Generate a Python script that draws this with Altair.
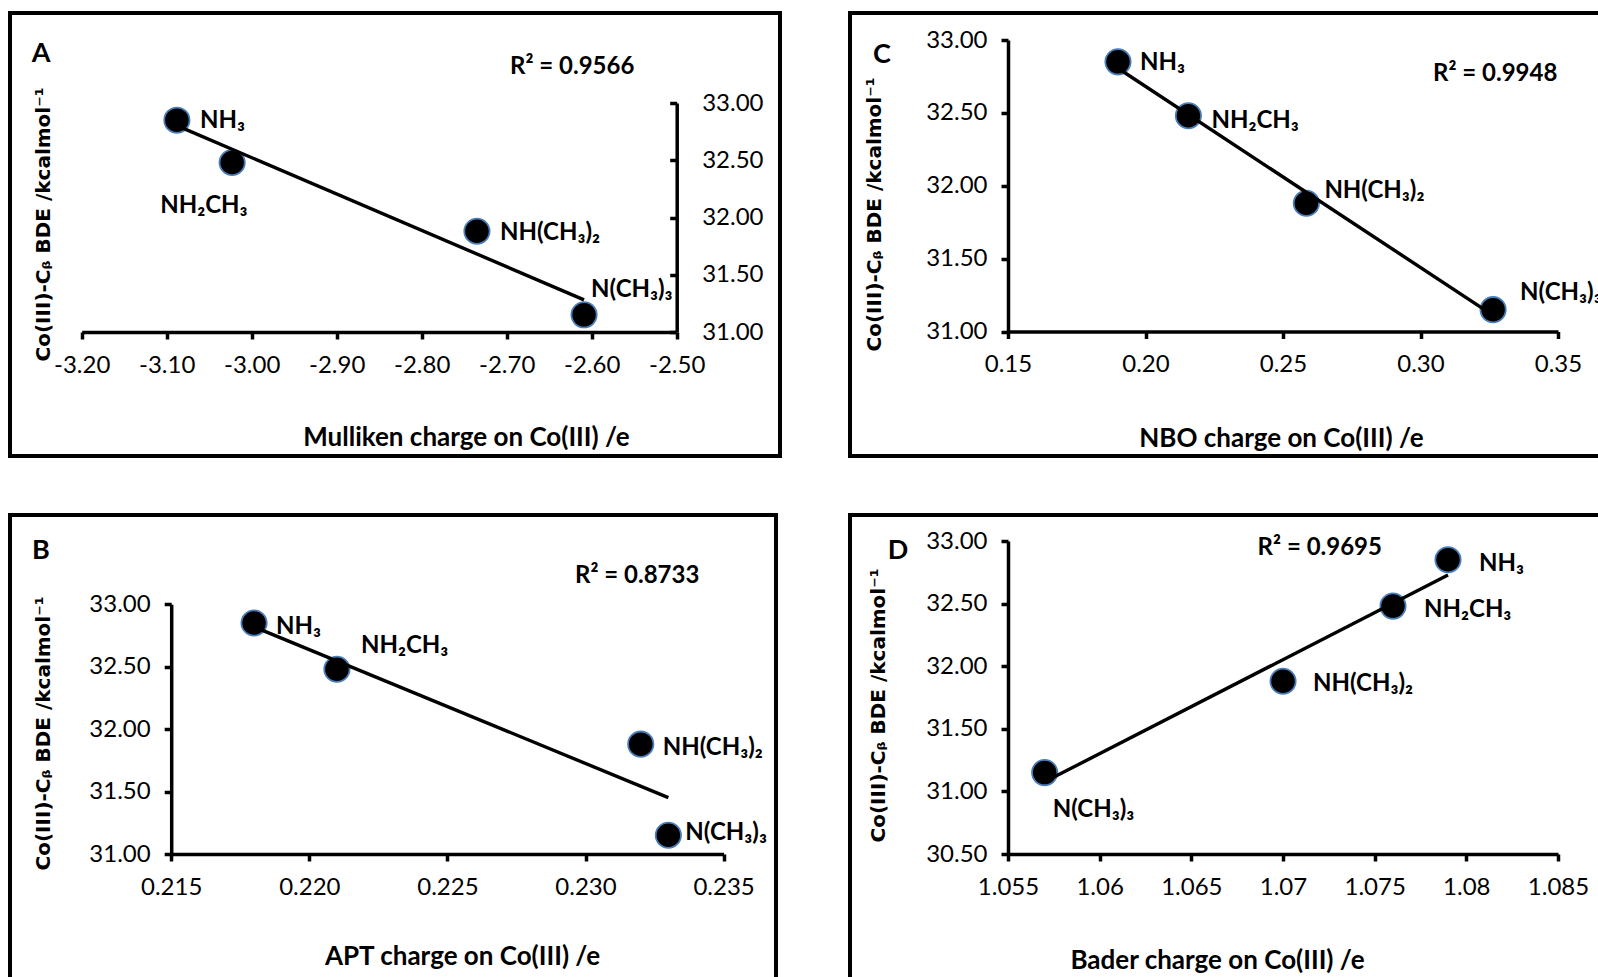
import altair as alt
import pandas as pd

# ---- data -------------------------------------------------------------
ligands = ["NH₃", "NH₂CH₃", "NH(CH₃)₂", "N(CH₃)₃"]
bde = [32.85, 32.48, 31.88, 31.15]            # Co(III)-Cβ BDE, kcal/mol
mulliken = [-3.088, -3.023, -2.735, -2.609]
nbo = [0.190, 0.2156, 0.2585, 0.3264]
apt = [0.218, 0.221, 0.232, 0.233]
bader = [1.079, 1.076, 1.070, 1.057]

r2_text = {"A": "R² = 0.9566", "B": "R² = 0.8733", "C": "R² = 0.9948", "D": "R² = 0.9695"}

mulliken_ticks = [-3.20, -3.10, -3.00, -2.90, -2.80, -2.70, -2.60, -2.50]
nbo_ticks = [0.15, 0.20, 0.25, 0.30, 0.35]
apt_ticks = [0.215, 0.220, 0.225, 0.230, 0.235]
bader_ticks = [1.055, 1.06, 1.065, 1.07, 1.075, 1.08, 1.085]
bde_ticks = [31.00, 31.50, 32.00, 32.50, 33.00]
bde_ticks_d = [30.50, 31.00, 31.50, 32.00, 32.50, 33.00]

# ---- style ------------------------------------------------------------
W, H = 1598, 977
SANS = "Lato, 'Noto Sans', sans-serif"
YT_FONT = "'DejaVu Sans', sans-serif"
Y_TITLE = "Co(III)-Cᵦ BDE /kcalmol⁻¹"
MARK_STROKE = "#4a7ebb"

panels = [
    dict(key="A", q=mulliken, x_dom=[-3.2, -2.5], x_ticks=mulliken_ticks, x_fmt=".2f",
         x_rng=[81.7, 676.7], x_axis_y=332, y_dom=[31, 33], y_ticks=bde_ticks,
         y_rng=[332, 103], y_axis_x=676.7, y_labels_right=True,
         x_title="Mulliken charge on Co(III) /e", x_title_pos=(466, 445),
         y_title_pos=(43, 224), frame=(10, 780, 13, 456),
         letter_pos=(41, 54), r2_pos=(510, 67),
         offsets=[(23, 8), (-72, 50), (23, 9), (7, -18)]),
    dict(key="C", q=nbo, x_dom=[0.15, 0.35], x_ticks=nbo_ticks, x_fmt=".2f",
         x_rng=[1008, 1558], x_axis_y=331.5, y_dom=[31, 33], y_ticks=bde_ticks,
         y_rng=[331.5, 40], y_axis_x=1008, y_labels_right=False,
         x_title="NBO charge on Co(III) /e", x_title_pos=(1281, 446),
         y_title_pos=(874, 214), frame=(850, 1700, 13, 456),
         letter_pos=(882, 55), r2_pos=(1433, 74),
         offsets=[(22, 8), (23, 12), (18, -5), (27, -10)]),
    dict(key="B", q=apt, x_dom=[0.215, 0.235], x_ticks=apt_ticks, x_fmt=".3f",
         x_rng=[171.2, 723.6], x_axis_y=854, y_dom=[31, 33], y_ticks=bde_ticks,
         y_rng=[854, 604.3], y_axis_x=171.2, y_labels_right=False,
         x_title="APT charge on Co(III) /e", x_title_pos=(462, 964),
         y_title_pos=(43, 733), frame=(10, 776, 515, 1100),
         letter_pos=(41, 551), r2_pos=(575, 576),
         offsets=[(22, 11), (24, -16), (22, 11), (17, 5)]),
    dict(key="D", q=bader, x_dom=[1.055, 1.085], x_ticks=bader_ticks, x_fmt="~g",
         x_rng=[1008, 1558], x_axis_y=854, y_dom=[30.5, 33], y_ticks=bde_ticks_d,
         y_rng=[854, 541], y_axis_x=1008, y_labels_right=False,
         x_title="Bader charge on Co(III) /e", x_title_pos=(1217, 968),
         y_title_pos=(878, 705), frame=(850, 1700, 515, 1100),
         letter_pos=(898, 551), r2_pos=(1257.6, 548),
         offsets=[(31, 11), (31, 11), (30, 10), (8, 44)]),
]

axis_common = dict(
    grid=False, domainColor="black", domainWidth=3.5, tickColor="black",
    tickWidth=3.5, tickSize=7, labelFont=SANS, labelFontSize=24,
    labelColor="black", labelOverlap=False, labelFlush=False,
    titleColor="black",
    # plain hyphen for negative numbers
    labelExpr="replace(datum.label, '\u2212', '-')",
)


def one_row():
    return alt.Data(values=[{}])


def build_panel(p):
    df = pd.DataFrame({"ligand": ligands, "q": p["q"], "bde": bde})

    x_axis = alt.Axis(
        orient="bottom", offset=p["x_axis_y"] - H, values=p["x_ticks"],
        format=p["x_fmt"], labelPadding=14, title=p["x_title"],
        titleFont=SANS, titleFontSize=26, titleFontWeight="bold",
        titleX=p["x_title_pos"][0], titleY=p["x_title_pos"][1] - p["x_axis_y"],
        titleAlign="center", titleBaseline="alphabetic", **axis_common,
    )
    y_extra = dict(labelAlign="left", labelPadding=-32) if p["y_labels_right"] else dict(labelPadding=14)
    y_axis = alt.Axis(
        orient="left", offset=-p["y_axis_x"], values=p["y_ticks"], format=".2f",
        title=Y_TITLE, titleFont=YT_FONT, titleFontSize=20, titleFontWeight="bold",
        titleX=p["y_title_pos"][0] - p["y_axis_x"], titleY=p["y_title_pos"][1],
        titleAngle=270, titleAlign="center", titleBaseline="middle",
        **y_extra, **axis_common,
    )

    base = alt.Chart(df).encode(
        x=alt.X("q:Q", scale=alt.Scale(domain=p["x_dom"], range=p["x_rng"], nice=False, zero=False), axis=x_axis),
        y=alt.Y("bde:Q", scale=alt.Scale(domain=p["y_dom"], range=p["y_rng"], nice=False, zero=False), axis=y_axis),
    )

    frame = alt.Chart(one_row()).mark_rect(filled=False, stroke="black", strokeWidth=4).encode(
        x=alt.value(p["frame"][0]), x2=alt.value(p["frame"][1]),
        y=alt.value(p["frame"][2]), y2=alt.value(p["frame"][3]),
    )

    points = base.mark_circle(size=640, color="black", opacity=1, stroke=MARK_STROKE, strokeWidth=1.8)

    trend = base.transform_regression("q", "bde").mark_line(color="black", strokeWidth=3.4)

    labels = [
        base.transform_filter(alt.datum.ligand == name).mark_text(
            font=SANS, fontSize=24, fontWeight="bold", color="black",
            align="left", baseline="alphabetic", dx=dx, dy=dy,
        ).encode(text="ligand:N")
        for name, (dx, dy) in zip(ligands, p["offsets"])
    ]

    letter = alt.Chart(one_row()).mark_text(
        text=p["key"], font=SANS, fontSize=27, fontWeight="bold", color="black",
        align="center", baseline="middle",
    ).encode(x=alt.value(p["letter_pos"][0]), y=alt.value(p["letter_pos"][1]))

    r2 = alt.Chart(one_row()).mark_text(
        text=r2_text[p["key"]], font=SANS, fontSize=24, fontWeight="bold", color="black",
        align="left", baseline="middle",
    ).encode(x=alt.value(p["r2_pos"][0]), y=alt.value(p["r2_pos"][1]))

    return alt.layer(frame, points, trend, *labels, letter, r2)


chart = (
    alt.layer(*[build_panel(p) for p in panels])
    .resolve_scale(x="independent", y="independent")
    .resolve_axis(x="independent", y="independent")
    .properties(width=W, height=H, padding=0, autosize=alt.AutoSizeParams(type="none"),
                background="white")
    .configure_view(stroke=None)
)

chart.save("out.html", embed_options={"renderer": "svg", "actions": False})
